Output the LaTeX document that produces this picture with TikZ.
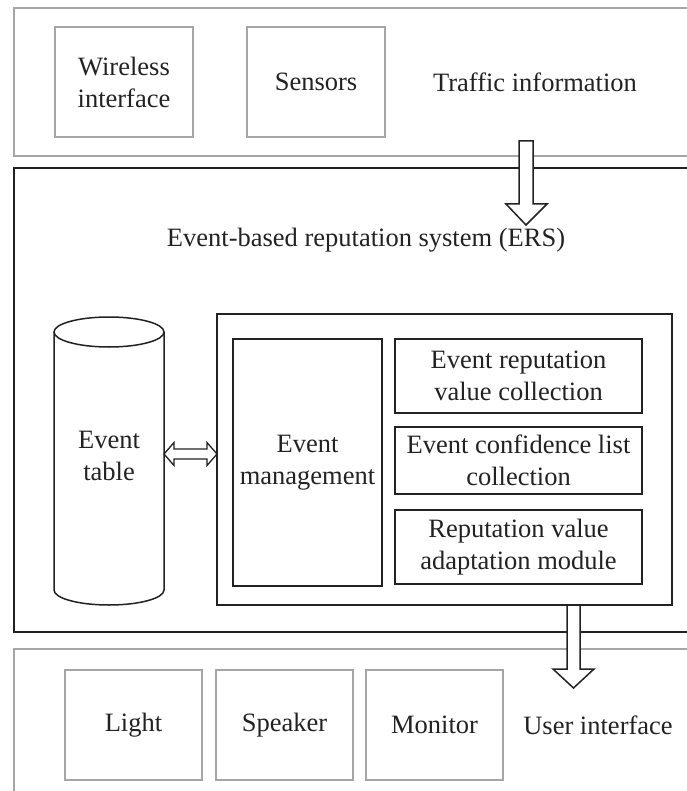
\documentclass[tikz,border=0pt]{standalone}
\usepackage{fontspec}
\setmainfont{Liberation Serif}
\newcommand\diagfont{\fontsize{26.5}{32}\selectfont}
\definecolor{panelgray}{HTML}{A6A6A6}
\definecolor{ink}{HTML}{222222}
\begin{document}
\begin{tikzpicture}[x=1pt,y=-1pt,
  gbox/.style={draw=panelgray, line width=1.3pt, minimum width=138pt, minimum height=110pt, inner sep=0pt, align=center, font=\diagfont, text=ink},
  bbox/.style={draw=ink, line width=1.5pt, inner sep=0pt, align=center, font=\diagfont, text=ink},
  lbl/.style={inner sep=0pt, align=center, font=\diagfont, text=ink},
  blockarrow/.style={draw=ink, fill=white, line width=1.5pt, line join=miter},
]
\useasboundingbox (0,0) rectangle (686,791);
% panels
\draw[draw=panelgray, line width=1.3pt] (700,8) -- (14,8) -- (14,156) -- (700,156);
\draw[draw=ink, line width=2pt] (700,168) -- (14,168) -- (14,632) -- (700,632);
\draw[draw=panelgray, line width=1.3pt] (700,649) -- (14,649) -- (14,800);
% top panel
\node[gbox] (wi) at (124,82) {Wireless\\interface};
\node[gbox] (sen) at (316,82) {Sensors};
\node[lbl] (traffic) at (535,82) {Traffic information};
% ERS label
\node[lbl] (ers) at (366,240) {Event-based reputation system (ERS)};
% cylinder
\node[minimum width=110pt, minimum height=288pt, inner sep=0pt] (evtab) at (109,461) {};
\draw[draw=ink, line width=1.5pt, fill=white] (54,332) -- (54,590) arc[start angle=180, end angle=0, x radius=55, y radius=15] -- (164,332);
\draw[draw=ink, line width=1.5pt] (109,332) ellipse [x radius=55, y radius=15];
\node[lbl] (evtabtxt) at (109,456) {Event\\table};
% inner box
\node[bbox, minimum width=455pt, minimum height=291pt] (inbox) at (444.5,459.5) {};
\node[bbox, minimum width=149pt, minimum height=247pt] (em) at (307.5,462.5) {Event\\management};
\node[bbox, minimum width=247pt, minimum height=74pt] (r1) at (518.5,376) {Event reputation\\value collection};
\node[bbox, minimum width=247pt, minimum height=67pt] (r2) at (518.5,460.5) {Event confidence list\\collection};
\node[bbox, minimum width=247pt, minimum height=74pt] (r3) at (518.5,547) {Reputation value\\adaptation module};
% bottom panel
\node[gbox, minimum width=137pt] (light) at (133.5,725) {Light};
\node[gbox, minimum width=137pt] (speaker) at (284.5,725) {Speaker};
\node[gbox, minimum width=137pt] (monitor) at (434.5,725) {Monitor};
\node[lbl] (ui) at (598,725) {User interface};
% block arrow 1 (traffic info -> ERS)
\draw[blockarrow] (519,141) -- (533,141) -- (533,204) -- (547,204) -- (526,225) -- (506,204) -- (519,204) -- cycle;
% block arrow 2 (ERS -> user interface)
\draw[blockarrow] (567,605) -- (580,605) -- (580,669) -- (594,669) -- (573.5,688) -- (553,669) -- (567,669) -- cycle;
% double arrow between event table and inner box
\coordinate (da1) at (164,454);
\coordinate (da2) at (217,454);
\draw[blockarrow, line width=1.3pt] (da1) -- (174,442.5) -- (174,449) -- (207,449) -- (207,442.5) -- (da2) -- (207,465.5) -- (207,459) -- (174,459) -- (174,465.5) -- cycle;
\end{tikzpicture}
\end{document}
